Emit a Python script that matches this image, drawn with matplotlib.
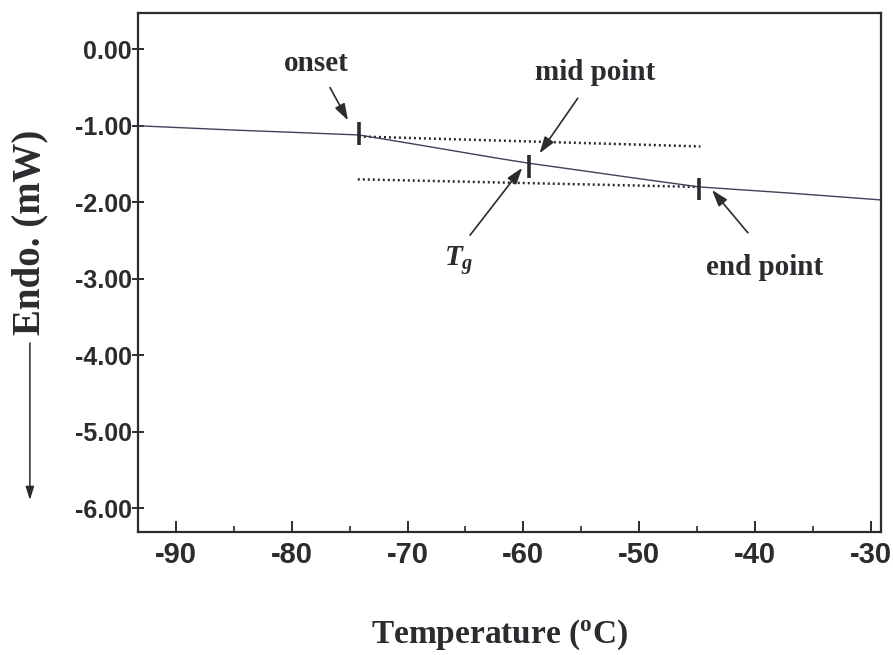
from __future__ import annotations

import matplotlib as mpl
import matplotlib.pyplot as plt

# DSC trace
TEMPERATURE = [-93.26, -85.0, -80.0, -74.2, -70.0, -66.3, -62.0, -59.5, -55.0, -50.8, -44.8, -37.0, -29.1]
HEAT_FLOW = [-1.00, -1.056, -1.085, -1.12, -1.225, -1.32, -1.43, -1.49, -1.585, -1.675, -1.80, -1.88, -1.97]

# onset / mid point / end point markers
MARK_T = [-74.2, -59.5, -44.8]
MARK_LOW = [-1.25, -1.68, -1.97]
MARK_HIGH = [-0.95, -1.38, -1.68]

# extrapolated baselines (dotted)
UPPER_T = [-74.2, -44.7]
UPPER_Y = [-1.14, -1.27]
LOWER_T = [-74.3, -44.8]
LOWER_Y = [-1.70, -1.80]

# label, text position, arrow tail, arrow head
ANNOTATIONS = [
    ("onset", (-77.9, -0.18), (-76.7, -0.50), (-75.15, -0.93)),
    ("mid point", (-53.8, -0.30), (-55.3, -0.64), (-58.6, -1.36)),
    (r"$T_g$", (-65.6, -2.76), (-64.6, -2.43), (-60.1, -1.55)),
    ("end point", (-39.2, -2.85), (-40.6, -2.40), (-43.7, -1.84)),
]

X_TICKS = [-90, -80, -70, -60, -50, -40, -30]
X_MINOR = [-85, -75, -65, -55, -45, -35]
Y_TICKS = [0, -1, -2, -3, -4, -5, -6]

INK = "#2b2b30"
CURVE = "#3d4257"
SERIF = ["Liberation Serif", "DejaVu Serif"]
SANS = ["Liberation Sans", "DejaVu Sans"]


def configure_style() -> None:
    mpl.rcParams.update(
        {
            "axes.unicode_minus": False,
            "mathtext.fontset": "custom",
            "mathtext.rm": "Liberation Serif:bold",
            "mathtext.it": "Liberation Serif:italic:bold",
            "mathtext.bf": "Liberation Serif:bold",
            "axes.linewidth": 1.6,
            "axes.edgecolor": INK,
            "figure.facecolor": "white",
            "axes.facecolor": "white",
        }
    )


def draw_figure() -> plt.Figure:
    fig = plt.figure(figsize=(8.93, 6.55), dpi=100)
    ax = fig.add_axes([0.1549, 0.1882, 0.8317, 0.7919])

    ax.plot(TEMPERATURE, HEAT_FLOW, color=CURVE, linewidth=1.0, zorder=3)
    ax.plot(UPPER_T, UPPER_Y, color=INK, linewidth=1.8, linestyle=(0, (0.8, 1.2)), zorder=2)
    ax.plot(LOWER_T, LOWER_Y, color=INK, linewidth=1.8, linestyle=(0, (0.8, 1.2)), zorder=2)
    ax.vlines(MARK_T, MARK_LOW, MARK_HIGH, color=INK, linewidth=2.6, zorder=4)

    for label, text_xy, tail, head in ANNOTATIONS:
        ax.text(*text_xy, label, ha="center", va="center", fontsize=21,
                fontweight="bold", family=SERIF, color=INK)
        ax.annotate("", xy=head, xytext=tail,
                    arrowprops=dict(arrowstyle="-|>,head_length=1.0,head_width=0.33",
                                    color=INK, linewidth=1.2, shrinkA=0, shrinkB=0))

    ax.set_xlim(-93.26, -29.1)
    ax.set_ylim(-6.31, 0.475)
    ax.set_xticks(X_TICKS)
    ax.set_xticklabels([str(t) for t in X_TICKS])
    ax.set_xticks(X_MINOR, minor=True)
    ax.set_yticks(Y_TICKS)
    ax.set_yticklabels([f"{t:.2f}" for t in Y_TICKS])

    ax.tick_params(axis="x", which="major", direction="in", length=8, width=1.4, pad=7, colors=INK)
    ax.tick_params(axis="x", which="minor", direction="in", length=4, width=1.2, colors=INK)
    ax.tick_params(axis="y", direction="inout", length=9, width=1.4, pad=0, colors=INK)
    for lab in ax.get_xticklabels():
        lab.set_fontfamily(SANS)
        lab.set_fontweight("bold")
        lab.set_fontsize(21)
    for lab in ax.get_yticklabels():
        lab.set_fontfamily(SANS)
        lab.set_fontweight("bold")
        lab.set_fontsize(18)

    ax.set_xlabel(r"Temperature ($^{\rm o}$C)", fontsize=24, fontweight="bold", family=SERIF, color=INK)
    ax.xaxis.set_label_coords(0.487, -0.166)
    ax.set_ylabel("Endo. (mW)", fontsize=28, fontweight="bold", family=SERIF, color=INK)
    ax.yaxis.set_label_coords(-0.146, 0.578)
    ax.yaxis.label.set_va("center")

    # downward arrow under the y label
    ax.annotate("", xy=(-0.146, 0.061), xytext=(-0.146, 0.364), xycoords="axes fraction",
                textcoords="axes fraction", annotation_clip=False,
                arrowprops=dict(arrowstyle="-|>,head_length=0.8,head_width=0.25",
                                color=INK, linewidth=1.1, shrinkA=0, shrinkB=0))
    return fig


def main() -> int:
    configure_style()
    fig = draw_figure()
    fig.savefig("out.png", dpi=100)
    plt.close(fig)
    return 0


if __name__ == "__main__":
    raise SystemExit(main())
